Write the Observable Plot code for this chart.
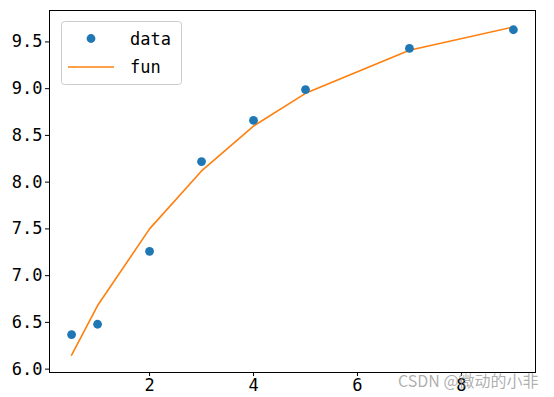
<!DOCTYPE html>
<html>
<head>
<meta charset="utf-8">
<script src="https://cdn.jsdelivr.net/npm/d3@7"></script>
<script src="https://cdn.jsdelivr.net/npm/@observablehq/plot@0.6"></script>
<style>
  html, body { margin: 0; padding: 0; background: #fff; }
  #chart { position: relative; width: 554px; height: 397px; }
  .wm { position: absolute; left: 398px; top: 368px; font: 16px "Noto Sans CJK SC", sans-serif; color: rgba(140,140,140,0.7); white-space: nowrap; }
</style>
</head>
<body>
<div id="chart"></div>
<script>
const xData = [0.5, 1, 2, 3, 4, 5, 7, 9];
const yData = [6.37, 6.48, 7.26, 8.22, 8.66, 8.99, 9.43, 9.63];
const yFun  = [6.15, 6.68, 7.50, 8.12, 8.60, 8.95, 9.41, 9.66];
const xTicks = [2, 4, 6, 8];
const yTicks = [6.0, 6.5, 7.0, 7.5, 8.0, 8.5, 9.0, 9.5];
const seriesNames = ["data", "fun"];

const pts = xData.map((x, i) => ({x, y: yData[i]}));
const line = xData.map((x, i) => ({x, y: yFun[i]}));

const font = "'DejaVu Sans Mono', monospace";
const plot = Plot.plot({
  width: 554,
  height: 397,
  marginLeft: 49,
  marginRight: 19,
  marginTop: 10,
  marginBottom: 25,
  style: {fontFamily: font, fontSize: "17px", color: "#000", background: "#fff"},
  x: {domain: [0.075, 9.425], ticks: xTicks, tickSize: 4, tickPadding: 2, label: null, tickFormat: d3.format("d")},
  y: {domain: [5.964, 9.836], ticks: yTicks, tickSize: 4, tickPadding: 3, label: null, tickFormat: d3.format(".1f")},
  marks: [
    Plot.frame({stroke: "#000", strokeWidth: 1}),
    Plot.line(line, {x: "x", y: "y", stroke: "#ff7f0e", strokeWidth: 1.6}),
    Plot.dot(pts, {x: "x", y: "y", r: 4.4, fill: "#1f77b4", stroke: "none"})
  ]
});
document.getElementById("chart").appendChild(plot);

// legend
const svg = d3.select(plot);
const g = svg.append("g").attr("font-family", font).attr("font-size", 17).attr("text-anchor", "start");
g.append("rect").attr("x", 61.5).attr("y", 21.5).attr("width", 120).attr("height", 63)
  .attr("rx", 3).attr("fill", "rgba(255,255,255,0.8)").attr("stroke", "#ccc");
g.append("circle").attr("cx", 91).attr("cy", 38.5).attr("r", 4.4).attr("fill", "#1f77b4");
g.append("line").attr("x1", 68).attr("x2", 114).attr("y1", 67).attr("y2", 67)
  .attr("stroke", "#ff7f0e").attr("stroke-width", 1.6);
g.append("text").attr("x", 130).attr("y", 39).attr("dy", "0.35em").attr("text-anchor", "start").text(seriesNames[0]);
g.append("text").attr("x", 130).attr("y", 67).attr("dy", "0.35em").attr("text-anchor", "start").text(seriesNames[1]);

const wm = document.createElement("div");
wm.className = "wm";
wm.textContent = "CSDN @微动的小非";
document.getElementById("chart").appendChild(wm);
</script>
</body>
</html>
